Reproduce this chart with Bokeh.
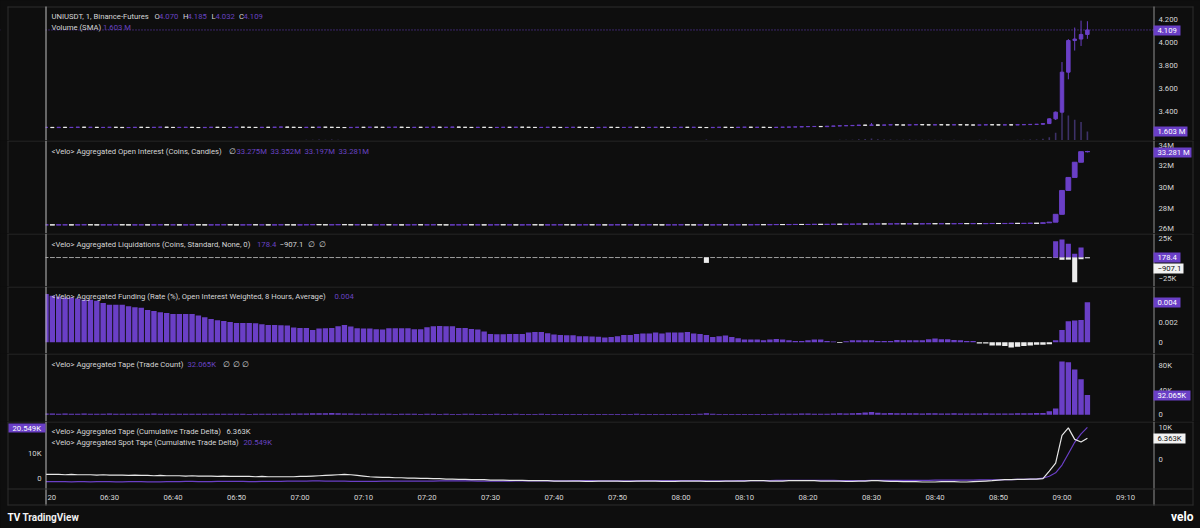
from bokeh.plotting import figure
from bokeh.layouts import column
from bokeh.models import (Range1d, Label, Span, BoxAnnotation, ColumnDataSource,
                          GlobalInlineStyleSheet)
from bokeh.embed import file_html
from bokeh.resources import INLINE

# ---------------- data (1-minute bars, 06:20 ... 09:04) ----------------
price_close = [
    3.262, 3.260, 3.263, 3.261, 3.262, 3.264, 3.262, 3.263, 3.261, 3.262,
    3.263, 3.262, 3.260, 3.261, 3.263, 3.262, 3.261, 3.263, 3.264, 3.262,
    3.261, 3.262, 3.263, 3.261, 3.260, 3.262, 3.263, 3.262, 3.261, 3.262,
    3.264, 3.263, 3.262, 3.261, 3.263, 3.262, 3.264, 3.265, 3.263, 3.262,
    3.261, 3.263, 3.262, 3.264, 3.263, 3.262, 3.261, 3.260, 3.262, 3.263,
    3.262, 3.264, 3.263, 3.262, 3.263, 3.264, 3.262, 3.261, 3.263, 3.262,
    3.263, 3.264, 3.262, 3.263, 3.265, 3.263, 3.262, 3.261, 3.263, 3.262,
    3.261, 3.262, 3.263, 3.262, 3.264, 3.263, 3.262, 3.261, 3.262, 3.263,
    3.262, 3.261, 3.262, 3.263, 3.262, 3.261, 3.260, 3.262, 3.263, 3.262,
    3.261, 3.262, 3.263, 3.262, 3.261, 3.262, 3.263, 3.262, 3.261, 3.262,
    3.263, 3.262, 3.263, 3.261, 3.260, 3.262, 3.263, 3.262, 3.261, 3.263,
    3.264, 3.262, 3.263, 3.262, 3.261, 3.263, 3.264, 3.265, 3.266, 3.268,
    3.269, 3.270, 3.268, 3.272, 3.274, 3.276, 3.277, 3.279, 3.282, 3.280,
    3.283, 3.281, 3.283, 3.285, 3.283, 3.282, 3.284, 3.286, 3.284, 3.283,
    3.285, 3.284, 3.283, 3.285, 3.284, 3.283, 3.282, 3.283, 3.285, 3.284,
    3.283, 3.284, 3.283, 3.285, 3.286, 3.288, 3.289, 3.295, 3.336, 3.394,
    3.742, 4.017, 4.030, 4.070, 4.109]
price_open_first = 3.262
wick_index = [130, 157, 158, 159, 160, 161, 162, 163, 164]
wick_high = [3.300, 3.300, 3.340, 3.400, 3.830, 4.030, 4.130, 4.190, 4.185]
wick_low = [3.281, 3.286, 3.296, 3.326, 3.385, 3.680, 3.930, 3.970, 4.032]

volume_m = [
    0.12, 0.10, 0.08, 0.09, 0.07, 0.08, 0.10, 0.06, 0.07, 0.08,
    0.09, 0.07, 0.06, 0.08, 0.07, 0.06, 0.08, 0.09, 0.07, 0.06,
    0.05, 0.07, 0.06, 0.08, 0.07, 0.05, 0.06, 0.07, 0.08, 0.06,
    0.05, 0.06, 0.04, 0.06, 0.07, 0.05, 0.06, 0.08, 0.07, 0.09,
    0.10, 0.12, 0.14, 0.16, 0.13, 0.18, 0.15, 0.11, 0.09, 0.08,
    0.07, 0.06, 0.05, 0.07, 0.06, 0.04, 0.05, 0.06, 0.05, 0.04,
    0.05, 0.06, 0.04, 0.05, 0.03, 0.04, 0.05, 0.06, 0.04, 0.03,
    0.04, 0.05, 0.03, 0.04, 0.05, 0.03, 0.02, 0.04, 0.05, 0.03,
    0.02, 0.03, 0.04, 0.02, 0.03, 0.04, 0.03, 0.02, 0.02, 0.03,
    0.04, 0.02, 0.03, 0.05, 0.04, 0.03, 0.02, 0.03, 0.04, 0.02,
    0.03, 0.04, 0.02, 0.05, 0.16, 0.06, 0.04, 0.03, 0.02, 0.03,
    0.04, 0.03, 0.02, 0.04, 0.03, 0.05, 0.06, 0.05, 0.08, 0.10,
    0.09, 0.07, 0.06, 0.08, 0.11, 0.14, 0.12, 0.15, 0.21, 0.28,
    0.36, 0.22, 0.16, 0.18, 0.15, 0.13, 0.16, 0.14, 0.12, 0.13,
    0.15, 0.12, 0.10, 0.13, 0.11, 0.09, 0.10, 0.12, 0.14, 0.11,
    0.10, 0.09, 0.11, 0.13, 0.14, 0.16, 0.18, 0.30, 0.60, 1.37,
    4.90, 4.45, 3.70, 3.30, 1.603]

oi_close_m = [
    26.53, 26.52, 26.53, 26.53, 26.52, 26.53, 26.54, 26.53, 26.52, 26.53,
    26.53, 26.54, 26.53, 26.52, 26.53, 26.53, 26.52, 26.53, 26.54, 26.53,
    26.53, 26.52, 26.53, 26.54, 26.53, 26.52, 26.53, 26.53, 26.54, 26.53,
    26.52, 26.53, 26.54, 26.53, 26.53, 26.52, 26.53, 26.54, 26.53, 26.52,
    26.53, 26.54, 26.55, 26.54, 26.53, 26.54, 26.55, 26.54, 26.53, 26.54,
    26.53, 26.52, 26.53, 26.54, 26.53, 26.53, 26.52, 26.53, 26.54, 26.53,
    26.53, 26.54, 26.53, 26.52, 26.53, 26.53, 26.54, 26.53, 26.53, 26.52,
    26.53, 26.54, 26.53, 26.53, 26.52, 26.53, 26.54, 26.53, 26.52, 26.53,
    26.53, 26.54, 26.53, 26.52, 26.53, 26.54, 26.53, 26.53, 26.52, 26.53,
    26.54, 26.53, 26.53, 26.52, 26.53, 26.54, 26.53, 26.52, 26.53, 26.53,
    26.54, 26.53, 26.52, 26.53, 26.52, 26.53, 26.54, 26.53, 26.53, 26.54,
    26.53, 26.54, 26.55, 26.54, 26.55, 26.56, 26.55, 26.56, 26.57, 26.56,
    26.57, 26.58, 26.57, 26.58, 26.59, 26.58, 26.59, 26.60, 26.61, 26.60,
    26.61, 26.62, 26.61, 26.62, 26.63, 26.62, 26.63, 26.62, 26.63, 26.64,
    26.63, 26.64, 26.63, 26.64, 26.65, 26.64, 26.65, 26.64, 26.65, 26.66,
    26.65, 26.66, 26.67, 26.66, 26.67, 26.68, 26.67, 26.72, 26.78, 27.50,
    29.70, 30.90, 32.30, 33.275, 33.281]
oi_open_first = 26.53
oi_wick_index = [164]
oi_wick_high = [33.352]
oi_wick_low = [33.197]

liq_index = [104, 159, 160, 161, 162, 163, 164]
liq_long = [0, 19100, 21100, 16100, 4300, 11700, 178.4]
liq_short = [-6300, 0, -2700, -2500, -29000, -2000, -907.1]

funding_milli = [
    4.82, 4.65, 4.55, 4.48, 4.48, 4.38, 4.25, 4.25, 4.15, 3.92,
    3.75, 3.75, 3.75, 3.59, 3.49, 3.45, 3.22, 3.12, 2.99, 2.92,
    2.82, 2.82, 2.82, 2.82, 2.66, 2.49, 2.33, 2.19, 2.12, 2.03,
    1.93, 1.93, 1.93, 1.89, 1.79, 1.73, 1.73, 1.69, 1.66, 1.46,
    1.43, 1.43, 1.23, 1.36, 1.40, 1.43, 1.59, 1.73, 1.56, 1.40,
    1.36, 1.36, 1.29, 1.26, 1.40, 1.40, 1.40, 1.40, 1.29, 1.29,
    1.50, 1.59, 1.63, 1.59, 1.59, 1.43, 1.43, 1.33, 1.26, 1.06,
    0.83, 0.80, 0.80, 0.83, 0.83, 0.83, 0.97, 1.03, 1.03, 0.89,
    0.76, 0.73, 0.70, 0.70, 0.60, 0.60, 0.57, 0.55, 0.46, 0.52,
    0.59, 0.72, 0.72, 0.82, 0.88, 0.88, 0.98, 0.88, 0.98, 0.98,
    0.98, 1.02, 0.88, 0.82, 0.72, 0.52, 0.59, 0.66, 0.52, 0.39,
    0.27, 0.27, 0.27, 0.20, 0.27, 0.32, 0.27, 0.20, 0.13, 0.13,
    0.20, 0.27, 0.27, 0.13, 0.07, -0.07, 0.10, 0.20, 0.20, 0.20,
    0.20, 0.13, 0.13, 0.13, 0.23, 0.20, 0.20, 0.20, 0.20, 0.29,
    0.36, 0.29, 0.29, 0.23, 0.20, 0.13, 0.13, -0.13, -0.13, -0.33,
    -0.33, -0.39, -0.52, -0.46, -0.39, -0.33, -0.26, -0.26, -0.20, 0.20,
    1.21, 2.09, 2.16, 2.22, 4.00]

trades_k = [
    2.1, 1.9, 1.8, 2.0, 1.7, 1.8, 1.9, 1.6, 1.7, 1.8,
    1.9, 1.7, 1.6, 1.8, 1.7, 1.6, 1.8, 1.9, 1.7, 1.6,
    1.5, 1.7, 1.6, 1.8, 1.7, 1.5, 1.6, 1.7, 1.8, 1.6,
    1.5, 1.6, 1.4, 1.6, 1.7, 1.5, 1.6, 1.8, 1.7, 1.9,
    2.0, 2.2, 2.4, 2.6, 2.3, 2.8, 2.5, 2.1, 1.9, 1.8,
    1.7, 1.6, 1.5, 1.7, 1.6, 1.4, 1.5, 1.6, 1.5, 1.4,
    1.5, 1.6, 1.4, 1.5, 1.3, 1.4, 1.5, 1.6, 1.4, 1.3,
    1.4, 1.5, 1.3, 1.4, 1.5, 1.3, 1.2, 1.4, 1.5, 1.3,
    1.2, 1.3, 1.4, 1.2, 1.3, 1.4, 1.3, 1.2, 1.1, 1.3,
    1.4, 1.2, 1.3, 1.5, 1.4, 1.3, 1.2, 1.3, 1.4, 1.2,
    1.3, 1.4, 1.2, 1.5, 2.6, 1.6, 1.4, 1.3, 1.2, 1.3,
    1.4, 1.3, 1.2, 1.4, 1.3, 1.5, 1.6, 1.5, 1.8, 2.0,
    1.9, 1.7, 1.6, 1.8, 2.1, 2.4, 2.2, 2.5, 3.1, 3.8,
    4.6, 3.2, 2.6, 2.8, 2.5, 2.3, 2.6, 2.4, 2.2, 2.3,
    2.5, 2.2, 2.0, 2.3, 2.1, 1.9, 2.0, 2.2, 2.4, 2.1,
    2.0, 1.9, 2.1, 2.3, 2.4, 2.6, 2.8, 3.1, 5.8, 10.2,
    86.5, 85.4, 73.5, 57.8, 32.065]

perp_cvd_k = [
    -4.6, -4.6, -4.6, -4.7, -4.6, -4.7, -4.7, -4.7, -4.8, -4.7,
    -4.8, -4.8, -4.8, -4.9, -4.8, -4.9, -4.9, -5.0, -4.9, -5.0,
    -5.0, -5.0, -5.1, -5.0, -5.1, -5.1, -5.1, -5.2, -5.1, -5.2,
    -5.2, -5.2, -5.2, -5.3, -5.2, -5.3, -5.3, -5.3, -5.3, -5.3,
    -5.2, -5.2, -5.1, -5.0, -4.9, -4.8, -4.7, -4.6, -4.7, -4.9,
    -5.1, -5.3, -5.4, -5.5, -5.5, -5.6, -5.6, -5.7, -5.7, -5.8,
    -5.8, -5.9, -5.9, -6.0, -6.0, -6.1, -6.1, -6.2, -6.2, -6.2,
    -6.3, -6.3, -6.3, -6.4, -6.4, -6.4, -6.5, -6.5, -6.5, -6.5,
    -6.6, -6.6, -6.6, -6.6, -6.6, -6.7, -6.7, -6.6, -6.6, -6.6,
    -6.6, -6.7, -6.7, -6.6, -6.6, -6.6, -6.6, -6.7, -6.7, -6.7,
    -6.6, -6.6, -6.6, -6.6, -6.7, -6.7, -6.7, -6.6, -6.6, -6.6,
    -6.6, -6.5, -6.5, -6.5, -6.6, -6.6, -6.6, -6.5, -6.5, -6.5,
    -6.5, -6.5, -6.6, -6.6, -6.6, -6.6, -6.7, -6.7, -6.6, -6.6,
    -6.5, -6.5, -6.6, -6.7, -6.7, -6.8, -6.8, -6.8, -6.9, -6.9,
    -6.9, -6.8, -6.8, -6.8, -6.9, -6.9, -6.8, -6.7, -6.6, -6.5,
    -6.3, -6.2, -6.2, -6.1, -6.1, -6.0, -6.0, -5.9, -3.6, -1.2,
    7.2, 9.5, 6.0, 5.2, 6.363]

spot_cvd_k = [
    -1.1, -1.1, -1.1, -1.1, -1.2, -1.1, -1.1, -1.2, -1.1, -1.1,
    -1.1, -1.2, -1.2, -1.1, -1.1, -1.1, -1.2, -1.2, -1.2, -1.1,
    -1.1, -1.1, -1.0, -1.0, -1.1, -1.1, -1.1, -1.0, -1.0, -1.0,
    -1.0, -1.0, -1.1, -1.1, -1.0, -1.0, -1.0, -1.0, -0.9, -0.9,
    -0.9, -0.9, -0.8, -0.8, -0.9, -0.9, -0.9, -0.9, -1.0, -1.0,
    -1.0, -1.0, -1.0, -0.9, -0.9, -0.9, -0.9, -0.9, -0.9, -0.9,
    -0.9, -0.9, -0.8, -0.8, -0.8, -0.8, -0.8, -0.8, -0.9, -0.9,
    -0.9, -0.9, -0.9, -0.9, -0.8, -0.8, -0.8, -0.8, -0.8, -0.8,
    -0.8, -0.8, -0.8, -0.7, -0.7, -0.7, -0.7, -0.8, -0.8, -0.8,
    -0.8, -0.8, -0.8, -0.8, -0.7, -0.7, -0.7, -0.7, -0.7, -0.7,
    -0.7, -0.7, -0.7, -0.7, -0.8, -0.8, -0.8, -0.8, -0.8, -0.7,
    -0.7, -0.7, -0.7, -0.7, -0.7, -0.6, -0.6, -0.6, -0.6, -0.6,
    -0.6, -0.6, -0.6, -0.6, -0.6, -0.7, -0.7, -0.7, -0.7, -0.7,
    -0.6, -0.6, -0.6, -0.6, -0.6, -0.6, -0.6, -0.6, -0.6, -0.6,
    -0.5, -0.5, -0.5, -0.5, -0.5, -0.5, -0.5, -0.4, -0.4, -0.4,
    -0.4, -0.3, -0.3, -0.2, -0.2, -0.1, 0.0, 0.24, 1.0, 2.4,
    5.5, 10.0, 14.6, 18.0, 20.549]

tick_minutes = [10, 20, 30, 40, 50, 60, 70, 80, 90, 100, 110, 120, 130, 140, 150, 160, 170]
tick_labels = ["06:30", "06:40", "06:50", "07:00", "07:10", "07:20", "07:30", "07:40", "07:50",
               "08:00", "08:10", "08:20", "08:30", "08:40", "08:50", "09:00", "09:10"]

price_ticks = [3.4, 3.6, 3.8, 4.0, 4.2]
price_tick_labels = ["3.400", "3.600", "3.800", "4.000", "4.200"]
oi_ticks = [26, 28, 30, 32, 34]
oi_tick_labels = ["26M", "28M", "30M", "32M", "34M"]
liq_ticks = [-25000, 25000]
liq_tick_labels = ["\u221225K", "25K"]
funding_ticks = [0, 2, 4]
funding_tick_labels = ["0", "0.002", "0.004"]
trades_ticks = [0, 40, 80]
trades_tick_labels = ["0", "40K", "80K"]
cvd_ticks = [0, 10]
cvd_tick_labels = ["0", "10K"]

# ---------------- style ----------------
N = len(price_close)
minute = list(range(N))
W = 1200
BG = "#0e0e0e"
PUR = "#6a3fc6"
PUR_TXT = "#6843c2"
WHITE = "#ececec"
TXT = "#d6d6d6"
SEP = "#2d2d2d"
VOLC = "#3d3168"
FONT = "Roboto"
FS = "7.7px"

# whole canvas width is the frame: page x = 109 + 6.35 * (minute - 10)
xr = Range1d(-7.165, 181.811)


def make_pane(h, yr):
    p = figure(width=W, height=h, x_range=xr, y_range=yr, output_backend="svg",
               toolbar_location=None, x_axis_location=None, y_axis_location=None,
               min_border=0, background_fill_color=BG, border_fill_color=BG,
               outline_line_color=None)
    p.grid.visible = False
    return p


def box(p, cb, x0, x1, y0, y1, color):
    p.add_layout(BoxAnnotation(left=x0, right=x1, bottom=cb - y1, top=cb - y0,
                               left_units="screen", right_units="screen",
                               bottom_units="screen", top_units="screen",
                               fill_color=color, fill_alpha=1.0, line_color=None))


def txt(p, cb, x, y, text, color=TXT, size=FS, align="left", style="normal"):
    p.add_layout(Label(x=x, y=cb - y, x_units="screen", y_units="screen", text=text,
                       text_color=color, text_font=FONT, text_font_size=size,
                       text_align=align, text_baseline="middle", text_font_style=style))


def yticks(p, ticks, labels, x=1158, align="left", rng="default", nudge=None):
    nudge = nudge or {}
    for v, t in zip(ticks, labels):
        p.add_layout(Label(x=x, x_units="screen", y=v, y_units="data", y_range_name=rng,
                           y_offset=nudge.get(t, 0),
                           text=t, text_color=TXT, text_font=FONT, text_font_size=FS,
                           text_align=align, text_baseline="middle"))


def masks(p, cb, y0, y1):
    box(p, cb, 0, 45, y0, y1, BG)
    box(p, cb, 1154, 1200, y0, y1, BG)


def chrome(p, cb, y0, y1, top_line):
    box(p, cb, 7, 1193, top_line, top_line + 1, SEP)
    box(p, cb, 7, 8, y0, y1, SEP)
    box(p, cb, 1192, 1193, y0, y1, SEP)
    box(p, cb, 45, 46, y0, y1, "#bdbdbd")
    box(p, cb, 1153, 1154, y0, y1, "#8f8f8f")


def valbox(p, cb, x0, x1, y0, y1, text, fill=PUR, color="#ffffff"):
    box(p, cb, x0, x1, y0, y1, fill)
    txt(p, cb, x0 + 4, (y0 + y1) / 2 + 0.3, text, color)


def candles(p, close, open_first, widx, whigh, wlow, width):
    opens = [open_first] + close[:-1]
    top = [max(o, c) for o, c in zip(opens, close)]
    bot = [min(o, c) for o, c in zip(opens, close)]
    hi = list(top)
    lo = list(bot)
    for i, h, l in zip(widx, whigh, wlow):
        hi[i] = h
        lo[i] = l
    colors = [PUR if c >= o else WHITE for o, c in zip(opens, close)]
    src = ColumnDataSource(dict(x=minute, top=top, bottom=bot, hi=hi, lo=lo, color=colors))
    p.segment(x0="x", y0="lo", x1="x", y1="hi", line_color="color", line_width=1, source=src)
    p.vbar(x="x", width=width, top="top", bottom="bottom", fill_color="color",
           line_color="color", line_width=1, source=src)


# ---------------- pane 1: price + volume (page y 0..140) ----------------
CB1 = 140
p1 = make_pane(140, Range1d(3.1478, 4.3652))
p1.extra_y_ranges = {"vol": Range1d(0, 24.94)}
p1.vbar(x=minute, top=volume_m, bottom=0, width=0.25, y_range_name="vol",
        fill_color=VOLC, line_color=None)
candles(p1, price_close, price_open_first, wick_index, wick_high, wick_low, 0.55)
p1.add_layout(Span(location=price_close[-1], dimension="width", line_color=PUR,
                   line_dash="1 2", line_width=1))
masks(p1, CB1, 0, 140)
chrome(p1, CB1, 6, 140, 6)
yticks(p1, price_ticks, price_tick_labels)
txt(p1, CB1, 51, 15.5, "UNIUSDT, 1, Binance-Futures")
for xx, t, c in [(154, "O", TXT), (158.5, "4.070", PUR_TXT), (182.5, "H", TXT), (187, "4.185", PUR_TXT),
                 (211, "L", TXT), (215, "4.032", PUR_TXT), (238.5, "C", TXT), (243, "4.109", PUR_TXT)]:
    txt(p1, CB1, xx, 15.5, t, c)
txt(p1, CB1, 51, 26.5, "Volume (SMA)")
txt(p1, CB1, 102.5, 26.5, "1.603 M", PUR_TXT)
valbox(p1, CB1, 1153, 1180, 25, 35, "4.109")
valbox(p1, CB1, 1153, 1187, 126, 136, "1.603 M")

# ---------------- pane 2: open interest (page y 140..233) ----------------
CB2 = 233
p2 = make_pane(93, Range1d(25.733, 34.304))
candles(p2, oi_close_m, oi_open_first, oi_wick_index, oi_wick_high, oi_wick_low, 0.75)
masks(p2, CB2, 140, 233)
chrome(p2, CB2, 140, 233, 140)
yticks(p2, oi_ticks, oi_tick_labels, nudge={"26M": 2.5, "34M": -1.5})
txt(p2, CB2, 51, 150.7, "<Velo> Aggregated Open Interest (Coins, Candles)")
txt(p2, CB2, 228, 150.7, "\u2205")
for xx, t in [(236, "33.275M"), (270, "33.352M"), (304, "33.197M"), (338, "33.281M")]:
    txt(p2, CB2, xx, 150.7, t, PUR_TXT)
valbox(p2, CB2, 1153, 1191, 147, 157, "33.281 M")

# ---------------- pane 3: liquidations (page y 233..286) ----------------
CB3 = 286
p3 = make_pane(53, Range1d(-34000, 28200))
long_full = [0.0] * N
short_full = [0.0] * N
for i, lv, sv in zip(liq_index, liq_long, liq_short):
    long_full[i] = lv
    short_full[i] = sv
p3.vbar(x=minute, top=[0.0] * N, bottom=[0.0] * N, width=0.72, fill_color=None,
        line_color="#9a9a9a", line_width=1)
p3.vbar(x=minute, top=long_full, bottom=0, width=0.8, fill_color=PUR, line_color=None)
p3.vbar(x=minute, top=0, bottom=short_full, width=0.8, fill_color=WHITE, line_color=None)
masks(p3, CB3, 233, 286)
chrome(p3, CB3, 233, 286, 233)
yticks(p3, liq_ticks, liq_tick_labels, nudge={"25K": -2.5})
txt(p3, CB3, 51, 243.5, "<Velo> Aggregated Liquidations (Coins, Standard, None, 0)")
txt(p3, CB3, 256.5, 243.5, "178.4", PUR_TXT)
txt(p3, CB3, 279, 243.5, "\u2212907.1")
txt(p3, CB3, 307.5, 243.5, "\u2205")
txt(p3, CB3, 318.5, 243.5, "\u2205")
valbox(p3, CB3, 1153, 1180, 252, 262, "178.4")
valbox(p3, CB3, 1153, 1183, 263, 273, "\u2212907.1", fill="#f2f2f2", color="#111111")

# ---------------- pane 4: funding (page y 286..353) ----------------
CB4 = 353
p4 = make_pane(67, Range1d(-1.13, 5.57))
f_col = [PUR if v >= 0 else WHITE for v in funding_milli]
p4.vbar(x=minute, top=[max(v, 0) for v in funding_milli], bottom=[min(v, 0) for v in funding_milli],
        width=0.85, fill_color=f_col, line_color=None)
masks(p4, CB4, 286, 353)
chrome(p4, CB4, 286, 353, 286)
yticks(p4, funding_ticks, funding_tick_labels)
txt(p4, CB4, 51, 296, "<Velo> Aggregated Funding (Rate (%), Open Interest Weighted, 8 Hours, Average)")
txt(p4, CB4, 334, 296, "0.004", PUR_TXT)
valbox(p4, CB4, 1153, 1180, 297, 307, "0.004")

# ---------------- pane 5: trade count (page y 353..421) ----------------
CB5 = 421
p5 = make_pane(68, Range1d(-10.9, 99.5))
p5.vbar(x=minute, top=trades_k, bottom=0, width=0.85, fill_color=PUR, line_color=None)
masks(p5, CB5, 353, 421)
chrome(p5, CB5, 353, 421, 353)
yticks(p5, trades_ticks, trades_tick_labels)
txt(p5, CB5, 51, 363.5, "<Velo> Aggregated Tape (Trade Count)")
txt(p5, CB5, 187, 363.5, "32.065K", PUR_TXT)
for xx in (222, 232, 241.5):
    txt(p5, CB5, xx, 363.5, "\u2205")
valbox(p5, CB5, 1153, 1190, 390, 400, "32.065K")

# ---------------- pane 6: cumulative trade delta + time axis (page y 421..528) ----------------
CB6 = 528
p6 = make_pane(107, Range1d(-20.97, 11.42))
p6.extra_y_ranges = {"spot": Range1d(-19.88, 22.92)}
p6.line(minute, spot_cvd_k, line_color=PUR, line_width=1.2, y_range_name="spot")
p6.line(minute, perp_cvd_k, line_color="#e6e6e6", line_width=1.2)
masks(p6, CB6, 421, 528)
box(p6, CB6, 0, 1200, 489, 528, BG)
chrome(p6, CB6, 421, 505, 421)
box(p6, CB6, 7, 1193, 488, 489, SEP)
box(p6, CB6, 7, 1193, 504, 505, SEP)
yticks(p6, cvd_ticks, cvd_tick_labels, nudge={"10K": -1})
yticks(p6, cvd_ticks, cvd_tick_labels, x=41, align="right", rng="spot")
for m, t in zip(tick_minutes, tick_labels):
    p6.add_layout(Label(x=m, x_units="data", y=CB6 - 496.5, y_units="screen", text=t,
                        text_color=TXT, text_font=FONT, text_font_size=FS,
                        text_align="center", text_baseline="middle"))
txt(p6, CB6, 47, 496.5, "20")
txt(p6, CB6, 51, 431, "<Velo> Aggregated Tape (Cumulative Trade Delta)")
txt(p6, CB6, 226, 431, "6.363K")
txt(p6, CB6, 51, 441.5, "<Velo> Aggregated Spot Tape (Cumulative Trade Delta)")
txt(p6, CB6, 243, 441.5, "20.549K", PUR_TXT)
valbox(p6, CB6, 1153, 1185, 433, 443, "6.363K", fill="#f2f2f2", color="#111111")
valbox(p6, CB6, 8, 45, 423, 432, "20.549K")
txt(p6, CB6, 7, 517, "TV", "#ffffff", "10px", style="bold")
txt(p6, CB6, 22, 517, "TradingView", "#f0f0f0", "10px", style="bold")
txt(p6, CB6, 1193, 516.5, "velo", "#ffffff", "12px", align="right", style="bold")

p = column(p1, p2, p3, p4, p5, p6, spacing=0,
           stylesheets=[GlobalInlineStyleSheet(
               css="html, body { margin: 0 !important; padding: 0; background: #0e0e0e; overflow: hidden; }")])

open("out.html", "w").write(file_html(p, INLINE))
